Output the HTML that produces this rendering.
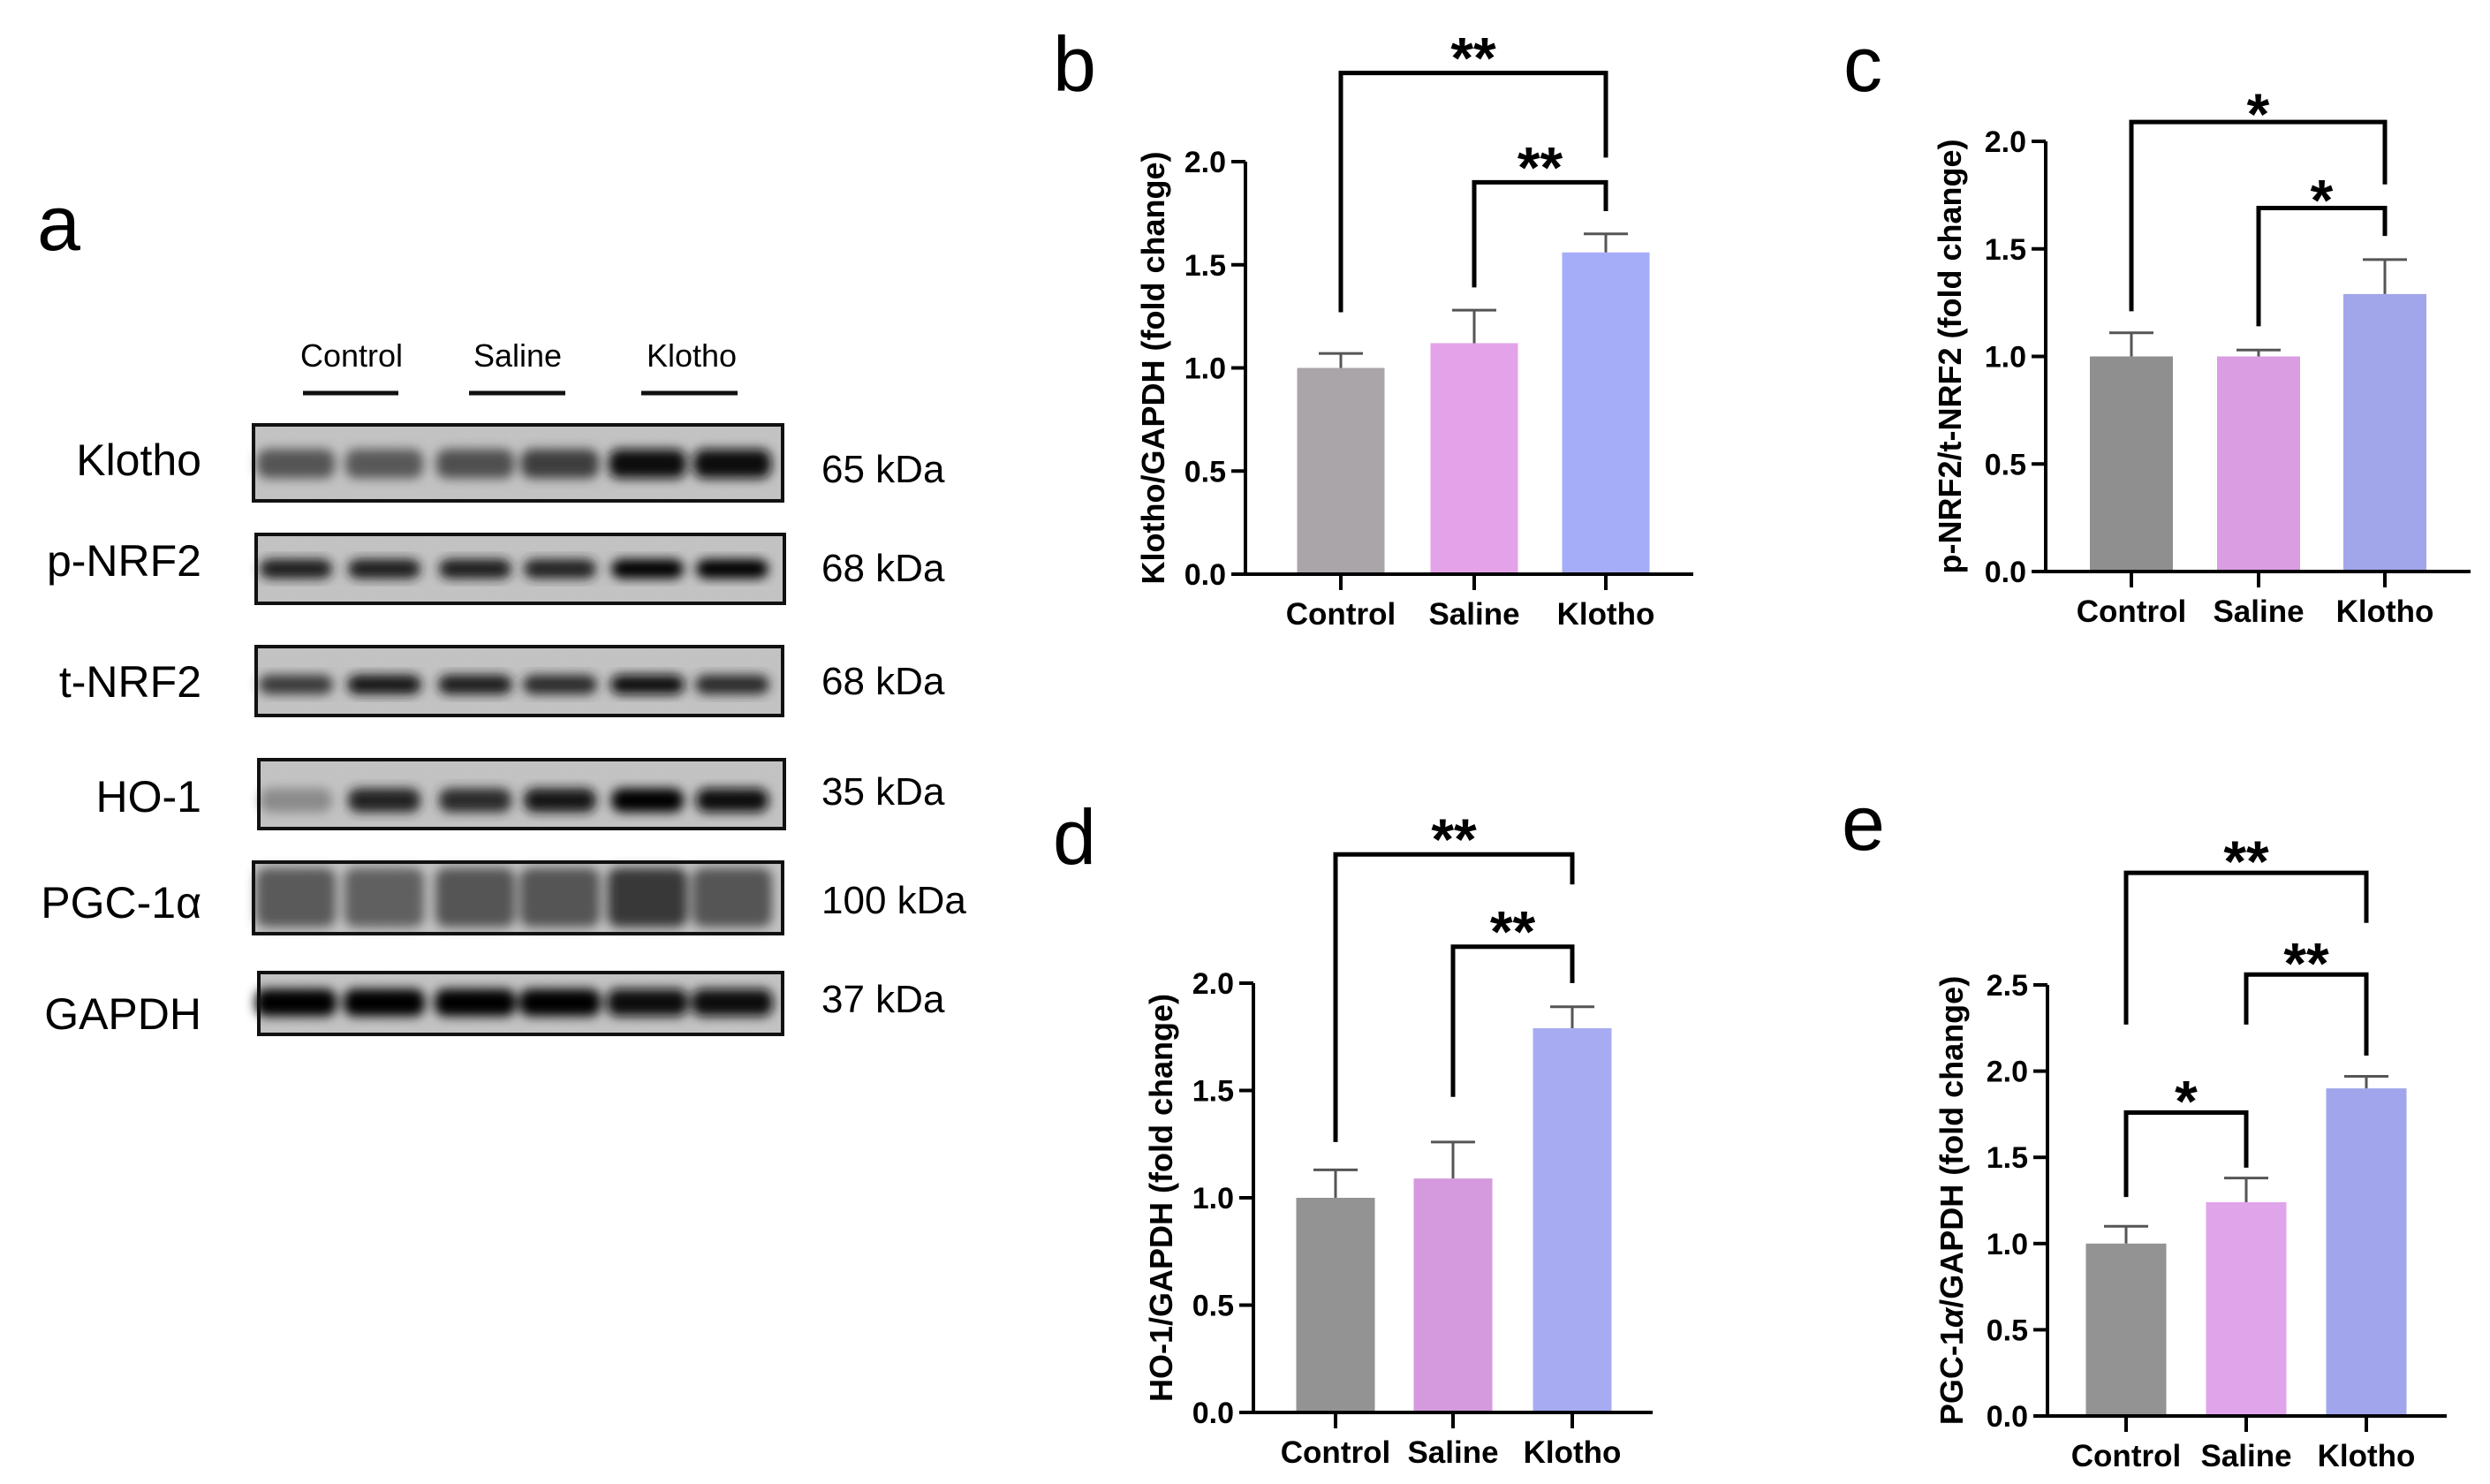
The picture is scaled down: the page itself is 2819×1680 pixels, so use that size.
<!DOCTYPE html>
<html><head><meta charset="utf-8">
<style>
html,body{margin:0;padding:0;background:#fff;}
svg{display:block;}
.lab{font-family:"Liberation Sans",sans-serif;}
.b{font-family:"Liberation Sans",sans-serif;font-weight:bold;}
</style></head>
<body>
<svg id="fig" width="2819" height="1680" viewBox="0 0 2819 1680" xmlns="http://www.w3.org/2000/svg">
<defs>
<filter id="blur" x="-20%" y="-40%" width="140%" height="180%"><feGaussianBlur stdDeviation="6"/></filter>
<filter id="noise" x="0" y="0" width="100%" height="100%"><feTurbulence type="fractalNoise" baseFrequency="0.35" numOctaves="2" seed="3"/><feColorMatrix type="matrix" values="0 0 0 0 0.5  0 0 0 0 0.5  0 0 0 0 0.5  0 0 0 0.35 0"/><feComposite in2="SourceGraphic" operator="in"/></filter>
</defs>
<g id="blot"></g>
<g id="charts"></g>
</svg>
<script>
// ===== shared categories =====
const categories = ["Control", "Saline", "Klotho"];
// ===== panel b: Klotho/GAPDH =====
const bValues = [1.00, 1.12, 1.56];
const bErrors = [1.07, 1.28, 1.65];
const bTicks = [0.0, 0.5, 1.0, 1.5, 2.0];
const bTickLabels = ["0.0", "0.5", "1.0", "1.5", "2.0"];
// ===== panel c: p-NRF2/t-NRF2 =====
const cValues = [1.00, 1.00, 1.29];
const cErrors = [1.11, 1.03, 1.45];
const cTicks = [0.0, 0.5, 1.0, 1.5, 2.0];
const cTickLabels = ["0.0", "0.5", "1.0", "1.5", "2.0"];
// ===== panel d: HO-1/GAPDH =====
const dValues = [1.00, 1.09, 1.79];
const dErrors = [1.13, 1.26, 1.89];
const dTicks = [0.0, 0.5, 1.0, 1.5, 2.0];
const dTickLabels = ["0.0", "0.5", "1.0", "1.5", "2.0"];
// ===== panel e: PGC-1a/GAPDH =====
const eValues = [1.00, 1.24, 1.90];
const eErrors = [1.10, 1.38, 1.97];
const eTicks = [0.0, 0.5, 1.0, 1.5, 2.0, 2.5];
const eTickLabels = ["0.0", "0.5", "1.0", "1.5", "2.0", "2.5"];
// significance brackets: [fromIdx, toIdx, barY, leftLegEnd, rightLegEnd] in data units
const bSig = [[0, 2, 2.43, 1.27, 2.02], [1, 2, 1.90, 1.39, 1.76]];
const bSigLabels = ["**", "**"];
const cSig = [[0, 2, 2.09, 1.21, 1.80], [1, 2, 1.69, 1.14, 1.56]];
const cSigLabels = ["*", "*"];
const dSig = [[0, 2, 2.60, 1.26, 2.46], [1, 2, 2.17, 1.47, 2.00]];
const dSigLabels = ["**", "**"];
const eSig = [[0, 2, 3.15, 2.27, 2.86], [1, 2, 2.56, 2.27, 2.09], [0, 1, 1.76, 1.27, 1.44]];
const eSigLabels = ["**", "**", "*"];

const NS = "http://www.w3.org/2000/svg";
function mk(tag, attrs, parent, text) {
  const e = document.createElementNS(NS, tag);
  for (const k in attrs) e.setAttribute(k, attrs[k]);
  if (text !== undefined) e.textContent = text;
  parent.appendChild(e);
  return e;
}

// ===== western blot =====
const blot = document.getElementById('blot');
const laneX = [335, 435, 538, 634, 733, 829];
const rows = [
  {name:"Klotho", kda:"65 kDa", box:[287,481,599,86], band:525, bh:33, bw:88, shades:["#555","#585858","#505050","#3e3e3e","#0a0a0a","#0c0c0c"], ly:538, ky:546},
  {name:"p-NRF2", kda:"68 kDa", box:[290,605,598,78], band:644, bh:22, bw:82, shades:["#1a1a1a","#1e1e1e","#1a1a1a","#222","#050505","#030303"], ly:652, ky:658},
  {name:"t-NRF2", kda:"68 kDa", box:[290,732,596,78], band:775, bh:22, bw:84, shades:["#3a3a3a","#151515","#1f1f1f","#2a2a2a","#111","#2a2a2a"], ly:789, ky:786},
  {name:"HO-1", kda:"35 kDa", box:[293,860,595,78], band:906, bh:27, bw:82, shades:["#8a8a8a","#222","#2a2a2a","#151515","#000","#0a0a0a"], ly:919, ky:911},
  {name:"PGC-1\u03b1", kda:"100 kDa", box:[287,976,599,81], band:1016, bh:67, bw:90, shades:["#5a5a5a","#606060","#555","#555","#383838","#555"], ly:1039, ky:1034},
  {name:"GAPDH", kda:"37 kDa", box:[293,1101,593,70], band:1135, bh:31, bw:92, shades:["#030303","#030303","#000","#050505","#080808","#0a0a0a"], ly:1165, ky:1146}
];
const hdr = [["Control",398,343,451],["Saline",586,531,640],["Klotho",783,726,835]];
hdr.forEach(h => {
  const t = mk('text',{x:h[1],y:415,'text-anchor':'middle','font-size':36,class:'lab'},blot,h[0]);
  
  
  const l = mk('line',{x1:h[2],x2:h[3],y1:445,y2:445,stroke:'#111','stroke-width':5},blot);
  
  
});
const la = mk('text',{x:42,y:283,'font-size':88,class:'lab'},blot,'a');


rows.forEach((r,ri) => {
  const g = mk('g',{},blot);
  
  
  const [x,y,w,h] = r.box;
  mk('rect',{x:x,y:y,width:w,height:h,fill:'#c4c4c4'},g);
  mk('rect',{x:x,y:y,width:w,height:h,fill:'#fff',filter:'url(#noise)'},g);
  const cg = mk('g',{filter:'url(#blur)'},g);
  r.shades.forEach((s,i) => {
    const bh = r.bh, bw = r.bw;
    mk('rect',{x:laneX[i]-bw/2,y:Math.max(y+5,r.band-bh/2),width:bw,height:Math.min(bh,h-10),rx:12,fill:s},cg);
  });
  mk('rect',{x:x,y:y,width:w,height:h,fill:'none',stroke:'#111','stroke-width':4},g);
  const t = mk('text',{x:228,y:r.ly,'text-anchor':'end','font-size':50,class:'lab'},g,r.name);
  
  
  const k = mk('text',{x:930,y:r.ky,'font-size':44,class:'lab'},g,r.kda);
  
  
});

// ===== bar charts =====
const charts = document.getElementById('charts');
function drawChart(cfg) {
  const g = mk('g',{},charts);
  
  
  const yMax = cfg.ticks[cfg.ticks.length-1];
  const yS = v => cfg.y0 - (v/yMax)*(cfg.y0 - cfg.yTop);
  const xS = i => cfg.cx[i];
  const pl = mk('text',{x:cfg.letter[0],y:cfg.letter[1],'font-size':88,class:'lab'},g,cfg.id);
  
  
  cfg.values.forEach((v,i) => {
    const r = mk('rect',{x:xS(i)-cfg.bw/2,y:yS(v),width:cfg.bw,height:yS(0)-yS(v),fill:cfg.colors[i]},g);
    
    
    const e = mk('path',{d:`M${xS(i)} ${yS(v)}V${yS(cfg.errors[i])}M${xS(i)-25} ${yS(cfg.errors[i])}H${xS(i)+25}`,stroke:'#555','stroke-width':3,fill:'none'},g);
    
    
  });
  const ax = mk('path',{d:`M${cfg.x0} ${yS(yMax)}V${yS(0)}M${cfg.x0-16} ${yS(0)}H${cfg.xEnd}`,stroke:'#000','stroke-width':4,fill:'none'},g);
  
  
  cfg.ticks.forEach((t,i) => {
    mk('line',{x1:cfg.x0-16,x2:cfg.x0,y1:yS(t),y2:yS(t),stroke:'#000','stroke-width':4},g);
    const tl = mk('text',{x:cfg.x0-22,y:yS(t)+12,'text-anchor':'end','font-size':34,class:'b'},g,cfg.tickLabels[i]);
    
    
  });
  categories.forEach((c,i) => {
    mk('line',{x1:xS(i),x2:xS(i),y1:yS(0),y2:yS(0)+18,stroke:'#000','stroke-width':4},g);
    const xl = mk('text',{x:xS(i),y:yS(0)+57,'text-anchor':'middle','font-size':35,class:'b'},g,c);
    
    
  });
  const my = (yS(0)+yS(yMax))/2;
  const yt = mk('text',{x:0,y:0,transform:`translate(${cfg.titleX},${my}) rotate(-90)`,'text-anchor':'middle','font-size':cfg.titleSize,class:'b'},g);
  
  
  cfg.title.forEach(p => { const s = mk('tspan',{},yt,p[0]); if (p[1]) s.setAttribute('font-style','italic'); });
  cfg.sig.forEach((s,k) => {
    const [a,b,yb,la,lb] = s;
    const br = mk('path',{d:`M${xS(a)} ${yS(la)}V${yS(yb)}H${xS(b)}V${yS(lb)}`,stroke:'#000','stroke-width':5,fill:'none'},g);
    
    
    const st = mk('text',{x:(xS(a)+xS(b))/2,y:yS(yb)+cfg.starDy,'text-anchor':'middle','font-size':66,class:'b'},g,cfg.sigLabels[k]);
    
    
  });
}
drawChart({id:'b',values:bValues,errors:bErrors,ticks:bTicks,tickLabels:bTickLabels,sig:bSig,sigLabels:bSigLabels,
  x0:1410,xEnd:1917,y0:650,yTop:183,cx:[1518,1669,1818],bw:99,letter:[1192,103],titleX:1318,titleSize:36,starDy:6,
  colors:['#aaa5a9','#e4a3e8','#a6adf8'],title:[['Klotho/GAPDH (fold change)']]});
drawChart({id:'c',values:cValues,errors:cErrors,ticks:cTicks,tickLabels:cTickLabels,sig:cSig,sigLabels:cSigLabels,
  x0:2316,xEnd:2797,y0:647,yTop:160,cx:[2413,2557,2700],bw:94,letter:[2087,103],titleX:2220,titleSize:36,starDy:14,
  colors:['#8f8f8f','#da9de2','#a1a6ea'],title:[['p-NRF2/t-NRF2 (fold change)']]});
drawChart({id:'d',values:dValues,errors:dErrors,ticks:dTicks,tickLabels:dTickLabels,sig:dSig,sigLabels:dSigLabels,
  x0:1419,xEnd:1871,y0:1599,yTop:1113,cx:[1512,1645,1780],bw:89,letter:[1192,978],titleX:1327,titleSize:36,starDy:6,
  colors:['#939393','#d59ade','#a7acf2'],title:[['HO-1/GAPDH (fold change)']]});
drawChart({id:'e',values:eValues,errors:eErrors,ticks:eTicks,tickLabels:eTickLabels,sig:eSig,sigLabels:eSigLabels,
  x0:2318,xEnd:2770,y0:1603,yTop:1115,cx:[2407,2543,2679],bw:91,letter:[2085,962],titleX:2222,titleSize:36,starDy:10,
  colors:['#939393','#e0a4ea','#a1a6ec'],title:[['PGC-1'],['\u03b1',true],['/GAPDH (fold change)']]});
</script>
</body></html>
